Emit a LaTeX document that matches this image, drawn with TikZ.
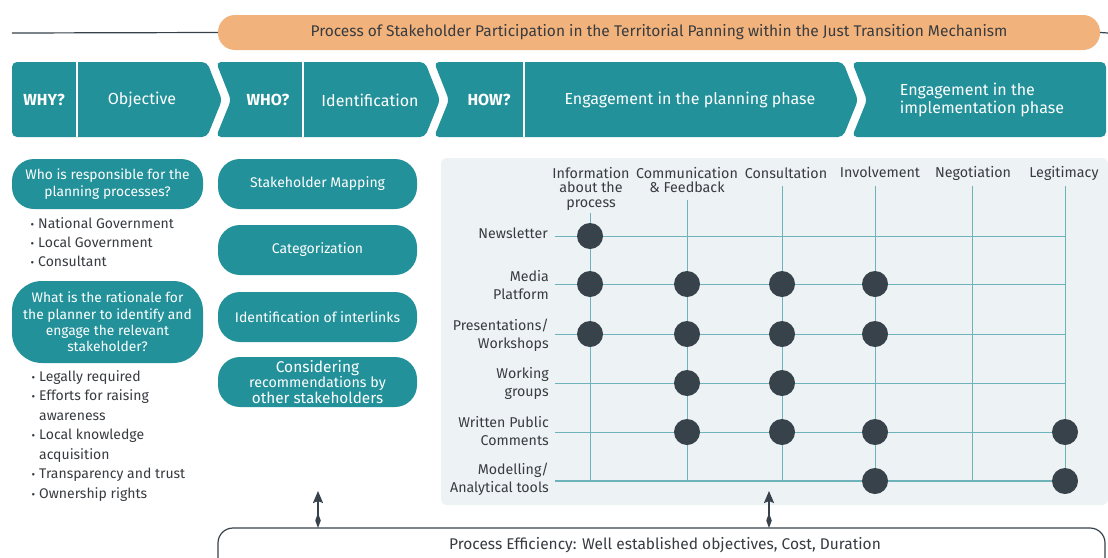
\documentclass[tikz,border=0pt]{standalone}
\usepackage{fontspec}
\setmainfont{Fira Sans}
\usetikzlibrary{arrows.meta}
\definecolor{tealc}{HTML}{22919A}
\definecolor{orangec}{HTML}{F2B27B}
\definecolor{darkc}{HTML}{37424A}
\definecolor{txt}{HTML}{383C40}
\definecolor{gridc}{HTML}{6DB3B9}
\definecolor{panelc}{HTML}{EDF2F5}
\newcommand{\bulmark}{\llap{\fontsize{11}{11}\selectfont\textbullet\hspace{4pt}}}
\begin{document}
\begin{tikzpicture}[x=1pt,y=-1pt,
  chev/.style={fill=tealc, rounded corners=5pt},
  chevtxt/.style={text=white, font=\fontsize{16}{19}\selectfont, inner sep=0pt, align=center},
  chevbold/.style={text=white, font=\fontsize{16}{19}\selectfont\bfseries, inner sep=0pt},
  pill/.style={fill=tealc, rounded corners=22pt, text=white, align=center, font=\fontsize{13.8}{16.8}\selectfont, inner sep=0pt},
  bultxt/.style={anchor=mid west, text=txt, font=\fontsize{14}{16}\selectfont, inner sep=0pt},
  rowlab/.style={anchor=east, align=right, text=txt, font=\fontsize{14.2}{18}\selectfont, inner sep=0pt},
  colhead/.style={anchor=north, align=center, text=txt, font=\fontsize{14.3}{14.5}\selectfont, inner sep=0pt},
  gridln/.style={draw=gridc, line width=1pt},
  dotn/.style={circle, fill=darkc, minimum size=26pt, inner sep=0pt},
  effarrow/.style={draw=darkc, line width=1.8pt, {Kite[length=15pt,width=5.5pt,inset=7.5pt]}-{Stealth[length=12pt,width=10pt,inset=2pt]}}
]
\useasboundingbox[fill=white] (0,0) rectangle (1108,557);

% title bar
\node[fill=orangec, rounded corners=17pt, minimum width=882pt, minimum height=35pt, inner sep=0pt,
      text=txt, font=\fontsize{15.5}{18}\selectfont] (title) at (659,32.5)
      {Process of Stakeholder Participation in the Territorial Panning within the Just Transition Mechanism};
\coordinate (tl) at (12,33);
\coordinate (tr) at (1108,33);
\draw[darkc, line width=1.2pt] (tl) -- (title.west);
\draw[darkc, line width=1.2pt] (title.east) -- (tr);

% chevrons
\fill[chev] (12,62) -- (207,62) -- (222,100) -- (207,137) -- (12,137) -- cycle;
\fill[chev] (216,62) -- (425,62) -- (440,100) -- (425,137) -- (216,137) -- (231,100) -- cycle;
\fill[chev] (434,62) -- (843,62) -- (858,100) -- (843,137) -- (434,137) -- (449,100) -- cycle;
\fill[chev] (852,62) -- (1106,62) -- (1106,137) -- (852,137) -- (867,100) -- cycle;
\draw[white, line width=1.5pt] (77,62) -- (77,137);
\draw[white, line width=1.5pt] (303,62) -- (303,137);
\draw[white, line width=1.5pt] (524,62) -- (524,137);

\node[chevbold] (why) at (44,100) {WHY?};
\node[chevtxt] (obj) at (142,100) {Objective};
\node[chevbold] (who) at (268,100) {WHO?};
\node[chevtxt] (ident) at (370,100) {Identification};
\node[chevbold] (how) at (489,100) {HOW?};
\node[chevtxt] (engp) at (690,100) {Engagement in the planning phase};
\node[chevtxt, align=left, font=\fontsize{16}{18.5}\selectfont] (engi) at (982,100) {Engagement in the\\implementation phase};

% left column
\node[pill, minimum width=191pt, minimum height=50pt] (q1) at (107.5,184)
  {Who is responsible for the\\planning processes?};
\node[bultxt] (b1) at (38,226) {\bulmark National Government};
\node[bultxt] (b2) at (38,245) {\bulmark Local Government};
\node[bultxt] (b3) at (38,264) {\bulmark Consultant};
\node[pill, minimum width=191pt, minimum height=82pt, rounded corners=30pt, font=\fontsize{13.8}{16.3}\selectfont] (q2) at (107.5,322)
  {What is the rationale for\\the planner to identify and\\engage the relevant\\stakeholder?};
\node[bultxt] (c1) at (39,379) {\bulmark Legally required};
\node[bultxt] (c2) at (39,398) {\bulmark Efforts for raising};
\node[bultxt] (c3) at (39,418) {awareness};
\node[bultxt] (c4) at (39,437) {\bulmark Local knowledge};
\node[bultxt] (c5) at (39,457) {acquisition};
\node[bultxt] (c6) at (39,476) {\bulmark Transparency and trust};
\node[bultxt] (c7) at (39,496) {\bulmark Ownership rights};

% middle column
\node[pill, minimum width=199pt, minimum height=50pt, font=\fontsize{14}{16}\selectfont] (m1) at (317.5,184) {Stakeholder Mapping};
\node[pill, minimum width=199pt, minimum height=50pt, font=\fontsize{14}{16}\selectfont] (m2) at (317.5,250) {Categorization};
\node[pill, minimum width=199pt, minimum height=50pt, font=\fontsize{14}{16}\selectfont] (m3) at (317.5,317) {Identification of interlinks};
\node[pill, minimum width=199pt, minimum height=50pt, font=\fontsize{14.3}{13.5}\selectfont] (m4) at (317.5,382)
  {{\fontsize{15.5}{13.5}\selectfont Considering}\\recommendations by\\{\fontsize{15.3}{13.5}\selectfont other stakeholders}};

% panel
\fill[panelc, rounded corners=6pt] (441,158) rectangle (1108,505);

% column headers
\node[colhead] (hI) at (591,167) {Information\\about the\\process};
\node[colhead] (hC) at (687,167) {Communication\\\& Feedback};
\node[colhead] (hS) at (786,167) {Consultation};
\node[colhead] (hV) at (880,167) {Involvement};
\node[colhead] (hN) at (973,166) {Negotiation};
\node[colhead] (hL) at (1064,166) {Legitimacy};

% row labels
\node[rowlab, anchor=mid east] (rN) at (548,236) {Newsletter};
\node[rowlab] (rM) at (549,285) {Media\\Platform};
\node[rowlab] (rP) at (549,335) {Presentations/\\Workshops};
\node[rowlab] (rW) at (549,383) {Working\\groups};
\node[rowlab] (rC) at (549,431) {Written Public\\Comments};
\node[rowlab] (rA) at (549,479) {Modelling/\\Analytical tools};

% grid coordinates
\foreach \r/\y in {N/236,M/284,P/334,W/383,C/432,A/481}{
  \coordinate (s\r) at (555,\y);
  \coordinate (e\r) at (1065,\y);
}
\foreach \c/\x/\t in {I/590/213,C/687/200,S/782/186,V/875/186,N/972/186,L/1065/186}{
  \coordinate (t\c) at (\x,\t);
  \coordinate (d\c) at (\x,481);
}
\foreach \r in {N,M,P,W,C}{ \draw[gridln] (s\r) -- (e\r); }
\draw[gridln, line width=1.4pt] (sA) -- (eA);
\foreach \c in {I,C,S,V,N,L}{ \draw[gridln] (t\c) -- (d\c); }

% dots
\foreach \c/\x in {I/590,C/687,S/782,V/875,L/1065}{
  \foreach \r/\y in {N/236,M/284,P/334,W/383,C/432,A/481}{
    \coordinate (g\c\r) at (\x,\y);
  }
}
\foreach \p in {gIN, gIM,gCM,gSM,gVM, gIP,gCP,gSP,gVP, gCW,gSW, gCC,gSC,gVC,gLC, gVA,gLA}{
  \node[dotn] at (\p) {};
}

% bottom box
\node[draw=darkc, line width=1.2pt, fill=white, rounded corners=15pt, minimum width=887pt, minimum height=50pt, inner sep=0pt] (effbox) at (661.5,553) {};
\node[text=txt, font=\fontsize{15.5}{18}\selectfont, inner sep=0pt] (eff) at (665,545) {Process Efficiency: Well established objectives, Cost, Duration};
\coordinate (a1s) at (318,528);
\coordinate (a1e) at (318,491);
\coordinate (a2s) at (769,528);
\coordinate (a2e) at (769,491);
\draw[effarrow] (a1s) -- (a1e);
\draw[effarrow] (a2s) -- (a2e);
\end{tikzpicture}
\end{document}
